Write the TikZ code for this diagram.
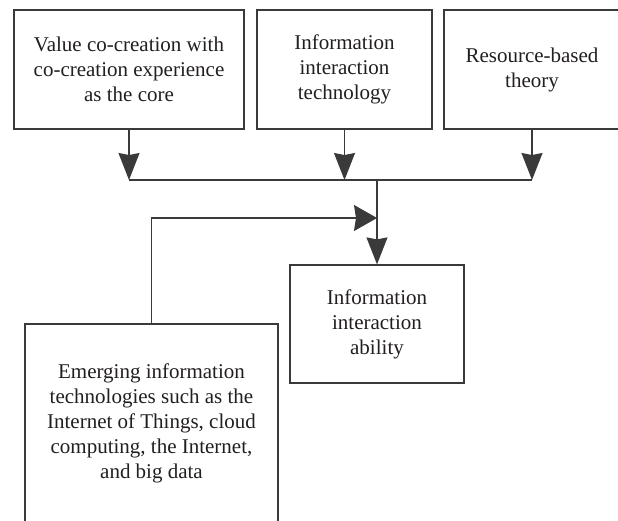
\documentclass[tikz,border=0pt]{standalone}
\usepackage{fontspec}
\setmainfont{Liberation Serif}
\usetikzlibrary{arrows.meta}
\definecolor{ink}{HTML}{231F20}
\definecolor{rule}{HTML}{3A3A3A}
\begin{document}
\begin{tikzpicture}[x=1pt,y=-1pt,
  box/.style={draw=rule,line width=1.2pt,align=center,text=ink,
    font=\fontsize{21}{25}\selectfont,inner sep=0pt},
  link/.style={draw=rule,line width=1.2pt},
  downarrow/.style={link,-{Stealth[length=27pt,width=21pt,inset=2pt]}},
  rightarrow/.style={link,-{Stealth[length=23pt,width=26pt,inset=2pt]}}]
  \path[use as bounding box,clip] (0,0) rectangle (618,520);
  \fill[white] (0,0) rectangle (618,520);

  % three source boxes along the top
  \node[box,minimum width=230pt,minimum height=119pt] (vc) at (129,69.5)
    {Value co-creation with\\co-creation experience\\as the core};
  \node[box,minimum width=175pt,minimum height=119pt] (iit) at (344.5,69.5)
    {Information\\interaction\\technology};
  \node[box,minimum width=176pt,minimum height=119pt] (rbt) at (532,69.5)
    {Resource-based\\theory};

  % outcome box and the enabling technologies box
  \node[box,minimum width=174pt,minimum height=118pt] (ability) at (377,324)
    {Information\\interaction\\ability};
  \node[box,minimum width=253pt,minimum height=198pt] (emerging) at (151.5,423)
    {Emerging information\\technologies such as the\\Internet of Things, cloud\\computing, the Internet,\\and big data};

  % collector bar and junction points
  \coordinate (bus) at (377,180);
  \coordinate (merge) at (377,218);

  \draw[downarrow] (vc.south) -- (vc.south |- bus);
  \draw[downarrow] (iit.south) -- (iit.south |- bus);
  \draw[downarrow] (rbt.south) -- (rbt.south |- bus);
  \draw[link] (vc.south |- bus) -- (rbt.south |- bus);
  \draw[downarrow] (bus) -- (ability.north);
  \draw[rightarrow] (emerging.north) |- (merge);
\end{tikzpicture}
\end{document}
